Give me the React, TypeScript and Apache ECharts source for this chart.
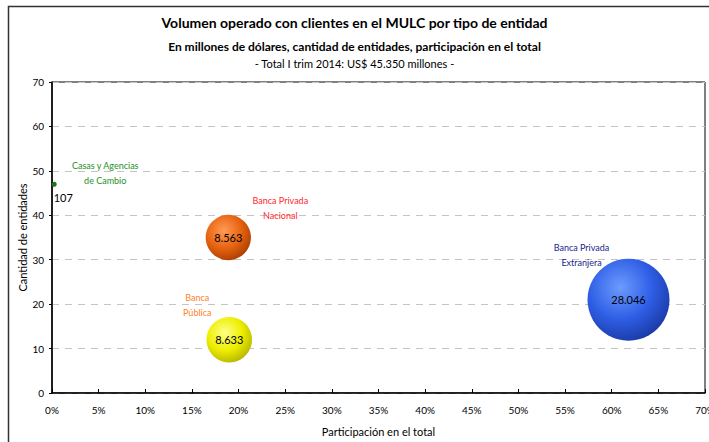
import React, { useEffect, useRef } from "react";
import * as echarts from "echarts";

const entities = ["Casas y Agencias\nde Cambio", "Banca Privada\nNacional", "Banca\nPública", "Banca Privada\nExtranjera"];
const sharePct = [0.24, 18.9, 19.0, 61.8];
const entityCount = [47, 35, 12, 21];
const volumeMillions = [107, 8563, 8633, 28046];
const volumeLabels = ["107", "8.563", "8.633", "28.046"];
const nameColors = ["#1f8f1f", "#ff2a2a", "#ff7f27", "#1c1c8c"];
const xTicks = { min: 0, max: 70, interval: 5 };
const yTicks = { min: 0, max: 70, interval: 10 };

const FONT = "Lato, 'Open Sans', sans-serif";

const fills: any[] = [
  "#177a17",
  new echarts.graphic.RadialGradient(0.4, 0.35, 0.7, [
    { offset: 0, color: "#ff9c55" },
    { offset: 0.55, color: "#e86412" },
    { offset: 1, color: "#a83c00" },
  ]),
  new echarts.graphic.RadialGradient(0.4, 0.35, 0.7, [
    { offset: 0, color: "#ffff8a" },
    { offset: 0.55, color: "#eeee00" },
    { offset: 1, color: "#b4b400" },
  ]),
  new echarts.graphic.RadialGradient(0.4, 0.35, 0.7, [
    { offset: 0, color: "#6d9bff" },
    { offset: 0.55, color: "#2f5fe6" },
    { offset: 1, color: "#1a38a4" },
  ]),
];

// label offsets relative to bubble center (px)
const nameOffsets = [
  [51, -11],
  [52, -30],
  [-32, -35],
  [-47, -45],
];

export default function App() {
  const ref = useRef<HTMLDivElement>(null);
  useEffect(() => {
    if (!ref.current) return;
    const chart = echarts.init(ref.current, undefined, { renderer: "svg" });
    const maxVol = Math.max(...volumeMillions);
    const series = entities.map((name, i) => ({
      type: "scatter",
      name,
      data: [[sharePct[i], entityCount[i], volumeMillions[i]]],
      symbolSize: (d: number[]) => 82 * Math.sqrt(d[2] / maxVol),
      itemStyle: { color: fills[i], opacity: 1 },
      label: {
        show: true,
        formatter: () => volumeLabels[i],
        position: i === 0 ? "bottom" : "inside",
        offset: i === 0 ? [9, 0] : [0, 0],
        color: "#000",
        fontSize: 11,
        fontFamily: FONT,
      },
      z: 3,
    }));
    const option: any = {
      animation: false,
      backgroundColor: "#fff",
      title: [
        {
          text: "Volumen operado con clientes en el MULC por tipo de entidad",
          left: "center",
          top: 10,
          textStyle: { fontSize: 14, fontWeight: "bold", fontFamily: FONT, color: "#000" },
        },
        {
          text: "En millones de dólares, cantidad de entidades, participación en el total",
          left: "center",
          top: 35,
          textStyle: { fontSize: 12, fontWeight: "bold", fontFamily: FONT, color: "#000" },
        },
        {
          text: "- Total I trim 2014: US$ 45.350 millones -",
          left: "center",
          top: 53,
          textStyle: { fontSize: 11, fontWeight: "normal", fontFamily: FONT, color: "#000" },
        },
      ],
      grid: {
        left: 52,
        top: 82,
        width: 653,
        height: 311,
        outerBoundsMode: "none",
        containLabel: false,
        show: true,
        borderColor: "#000",
        borderWidth: 1,
        backgroundColor: "transparent",
      },
      xAxis: {
        type: "value",
        min: xTicks.min,
        max: xTicks.max,
        interval: xTicks.interval,
        name: "Participación en el total",
        nameLocation: "middle",
        nameGap: 33,
        nameMoveOverlap: false,
        nameTextStyle: { fontSize: 11, fontFamily: FONT, color: "#000" },
        axisLine: { show: true, lineStyle: { color: "#000", width: 1.5 } },
        axisTick: { show: true, inside: true, length: 4, lineStyle: { color: "#000" } },
        axisLabel: { formatter: "{value}%", fontSize: 10, fontFamily: FONT, color: "#000", margin: 12 },
        splitLine: { show: false },
      },
      yAxis: {
        type: "value",
        min: yTicks.min,
        max: yTicks.max,
        interval: yTicks.interval,
        name: "Cantidad de entidades",
        nameLocation: "middle",
        nameGap: 24,
        nameMoveOverlap: false,
        nameTextStyle: { fontSize: 11, fontFamily: FONT, color: "#000" },
        axisLine: { show: true, lineStyle: { color: "#000", width: 1.5 } },
        axisTick: { show: true, inside: false, length: 3, lineStyle: { color: "#000" } },
        axisLabel: { fontSize: 10, fontFamily: FONT, color: "#000", margin: 8 },
        splitLine: { show: true, lineStyle: { color: "#c4c4c4", width: 1.2, type: [7, 6] } },
      },
      series,
    };
    chart.setOption(option);

    const graphics: any[] = [
      {
        type: "rect",
        shape: { x: 8.5, y: 6.5, width: 800, height: 600 },
        style: { fill: "none", stroke: "#333", lineWidth: 1.5 },
        silent: true,
        z: 0,
      },
    ];
    entities.forEach((name, i) => {
      const p = chart.convertToPixel({ gridIndex: 0 }, [sharePct[i], entityCount[i]]) as number[];
      graphics.push({
        type: "text",
        x: p[0] + nameOffsets[i][0],
        y: p[1] + nameOffsets[i][1],
        style: {
          text: name,
          fill: nameColors[i],
          fontSize: 9,
          fontFamily: FONT,
          align: "center",
          verticalAlign: "middle",
          lineHeight: 15,
        },
        z: 10,
      });
    });
    chart.setOption({ graphic: graphics });
    return () => chart.dispose();
  }, []);
  return (
    <div
      ref={ref}
      style={{ position: "fixed", left: 0, top: 0, width: 709, height: 442 }}
    />
  );
}
